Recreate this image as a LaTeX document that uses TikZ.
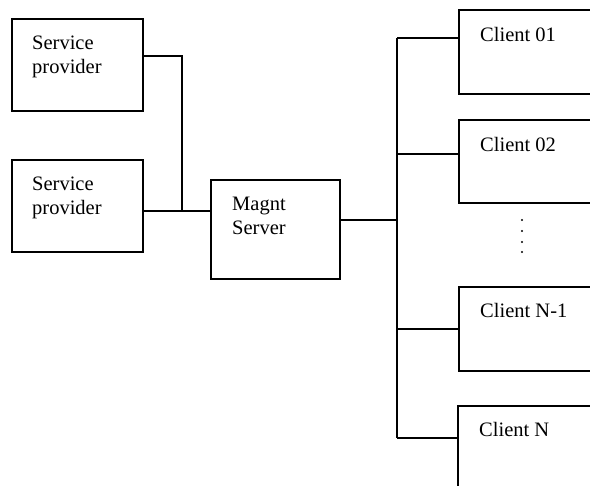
\documentclass[tikz,border=0pt]{standalone}
\usepackage{fontspec}
\setmainfont{Liberation Serif}
\begin{document}
\begin{tikzpicture}[x=1pt,y=-1pt,
  box/.style={draw,line width=1.4pt,rectangle,inner sep=0pt},
  lbl/.style={anchor=base west,inner sep=0pt,align=left,font=\fontsize{20.5}{24}\selectfont},
  wire/.style={line width=1.4pt}]
\useasboundingbox (0,0) rectangle (590,486);
\clip (0,0) rectangle (590,486);
% service providers
\node[box,minimum width=131pt,minimum height=92pt] (sp1) at (77.5,65) {};
\node[box,minimum width=131pt,minimum height=92pt] (sp2) at (77.5,206) {};
\node[lbl] (t1) at (32,74) {Service\\provider};
\node[lbl] (t2) at (32,215) {Service\\provider};
% server
\node[box,minimum width=129pt,minimum height=99pt] (srv) at (275.5,229.5) {};
\node[lbl] (t3) at (232,235) {Magnt\\Server};
% clients
\node[box,minimum width=200pt,minimum height=84pt] (c1) at (559,52) {};
\node[box,minimum width=200pt,minimum height=83pt] (c2) at (559,161.5) {};
\node[box,minimum width=200pt,minimum height=84pt] (c3) at (559,329) {};
\node[box,minimum width=200pt,minimum height=120pt] (c4) at (558,466) {};
\node[lbl] (t4) at (480,42) {Client 01};
\node[lbl] (t5) at (480,152) {Client 02};
\node[lbl] (t6) at (480,318) {Client N-1};
\node[lbl] (t7) at (479,437) {Client N};
% dots
\foreach \yy in {220,231,242,252} \fill (522,\yy) circle (1.1pt);
% connectors
\coordinate (j1) at (182,211);
\draw[wire] ([yshift=9pt]sp1.east) -| (j1);
\draw[wire] ([yshift=-5pt]sp2.east) -- ([yshift=-5pt]sp2.east -| srv.west);
\coordinate (bs) at (397,220);
\draw[wire] ([yshift=9.5pt]srv.east) -- (bs);
\coordinate (b1) at (397,38);
\coordinate (b2) at (397,154);
\coordinate (b3) at (397,329);
\coordinate (b4) at (397,438);
\draw[wire] (b1) -- (b4);
\draw[wire] (b1) -- (b1 -| c1.west);
\draw[wire] (b2) -- (b2 -| c2.west);
\draw[wire] (b3) -- (b3 -| c3.west);
\draw[wire] (b4) -- (b4 -| c4.west);
\end{tikzpicture}
\end{document}
